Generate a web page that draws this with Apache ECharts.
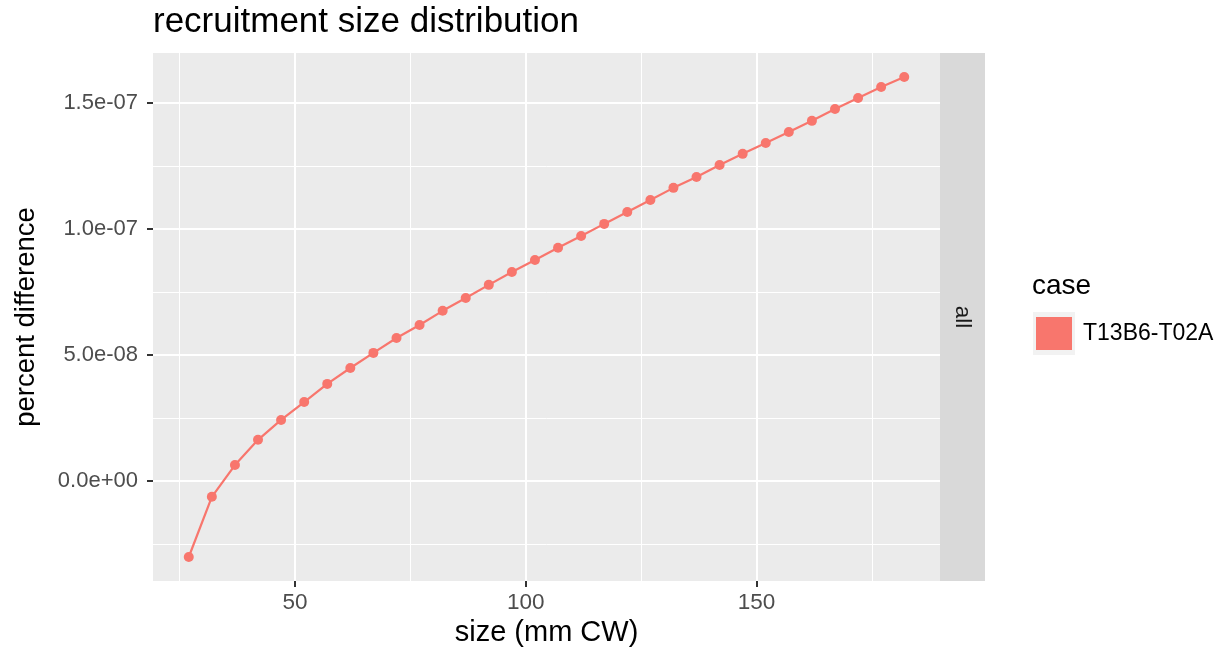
<!DOCTYPE html>
<html>
<head>
<meta charset="utf-8">
<script src="https://cdn.jsdelivr.net/npm/echarts@6/dist/echarts.min.js"></script>
<style>
html,body{margin:0;padding:0;background:#fff;}
#chart{width:1227px;height:658px;}
</style>
</head>
<body>
<div id="chart"></div>
<script>
// ---- data ----
const sizes = [27,32,37,42,47,52,57,62,67,72,77,82,87,92,97,102,107,112,117,122,127,132,137,142,147,152,157,162,167,172,177,182];
const pctDiff = [-3.02e-8,-6.3e-9,6.3e-9,1.63e-8,2.42e-8,3.13e-8,3.85e-8,4.48e-8,5.08e-8,5.67e-8,6.19e-8,6.75e-8,7.26e-8,7.78e-8,8.29e-8,8.77e-8,9.25e-8,9.72e-8,1.02e-7,1.067e-7,1.115e-7,1.163e-7,1.206e-7,1.254e-7,1.298e-7,1.341e-7,1.385e-7,1.429e-7,1.476e-7,1.52e-7,1.563e-7,1.603e-7];
const xMajorTicks = [50,100,150];
const xMinorTicks = [25,75,125,175];
const yMajorTicks = [0,5e-8,1e-7,1.5e-7];
const yMinorTicks = [-2.5e-8,2.5e-8,7.5e-8,1.25e-7];
const seriesName = 'T13B6-T02A';
const facetLabel = 'all';
const legendTitle = 'case';
const chartTitle = 'recruitment size distribution';
const xTitle = 'size (mm CW)';
const yTitle = 'percent difference';

// ---- layout ----
const G = {left:153, top:53, right:940, bottom:581};
const FONT = '"Liberation Sans", Arial, Helvetica, sans-serif';
const RED = '#F8766D';

function expand(arr){
  const mn = Math.min(...arr), mx = Math.max(...arr), d = (mx-mn)*0.05;
  return [mn-d, mx+d];
}
const [xmin,xmax] = expand(sizes);
const [ymin,ymax] = expand(pctDiff);

function sci(v){
  const s = Number(v).toExponential(1);
  let [m,e] = s.split('e');
  let sign = e[0], d = e.slice(1);
  if (d.length < 2) d = '0' + d;
  return m + 'e' + sign + d;
}

const chart = echarts.init(document.getElementById('chart'), null, {renderer:'canvas'});
const gridOpt = {left:G.left, top:G.top, width:G.right-G.left, height:G.bottom-G.top,
  show:true, backgroundColor:'#EBEBEB', borderWidth:0};

const option = {
  animation:false,
  backgroundColor:'#ffffff',
  title:[
    {text:chartTitle, left:G.left, top:5, padding:0,
     textStyle:{fontFamily:FONT, fontSize:35, fontWeight:'normal', color:'#000'}},
    {text:legendTitle, left:1032, top:272, padding:0,
     textStyle:{fontFamily:FONT, fontSize:28, fontWeight:'normal', color:'#000'}}
  ],
  grid:[gridOpt],
  legend:{
    left:1036, top:317, orient:'vertical', icon:'rect', itemWidth:36, itemHeight:33,
    padding:0, selectedMode:false,
    textStyle:{fontFamily:FONT, fontSize:23, color:'#000', padding:[0,0,0,6]},
    data:[{name:seriesName, itemStyle:{color:RED}}]
  },
  xAxis:[
    {type:'value', min:xmin, max:xmax, position:'bottom',
     name:xTitle, nameLocation:'middle', nameGap:37,
     nameTextStyle:{fontFamily:FONT, fontSize:29, color:'#000'},
     axisLine:{show:false, onZero:false},
     axisTick:{show:true, length:6, lineStyle:{color:'#333333', width:2}, customValues:xMajorTicks},
     axisLabel:{customValues:xMajorTicks, margin:10, fontFamily:FONT, fontSize:22.5, color:'#4D4D4D'},
     splitLine:{show:true, lineStyle:{color:'#ffffff', width:2}}},
    {type:'value', min:xmin, max:xmax, position:'bottom',
     axisLine:{show:false, onZero:false},
     axisTick:{show:false, customValues:xMinorTicks},
     axisLabel:{show:false, customValues:xMinorTicks},
     splitLine:{show:true, lineStyle:{color:'#ffffff', width:1}}}
  ],
  yAxis:[
    {type:'value', min:ymin, max:ymax, position:'left',
     name:yTitle, nameLocation:'middle', nameGap:113,
     nameTextStyle:{fontFamily:FONT, fontSize:27.5, color:'#000'},
     axisLine:{show:false, onZero:false},
     axisTick:{show:true, length:6, lineStyle:{color:'#333333', width:2}, customValues:yMajorTicks},
     axisLabel:{customValues:yMajorTicks, margin:15, fontFamily:FONT, fontSize:22, color:'#4D4D4D', formatter:sci},
     splitLine:{show:true, lineStyle:{color:'#ffffff', width:2}}},
    {type:'value', min:ymin, max:ymax, position:'left',
     axisLine:{show:false, onZero:false},
     axisTick:{show:false, customValues:yMinorTicks},
     axisLabel:{show:false, customValues:yMinorTicks},
     splitLine:{show:true, lineStyle:{color:'#ffffff', width:1}}}
  ],
  series:[
    {name:seriesName, type:'line', xAxisIndex:0, yAxisIndex:0,
     data:sizes.map((x,i)=>[x,pctDiff[i]]),
     symbol:'circle', symbolSize:10, showSymbol:true,
     lineStyle:{color:RED, width:2.2}, itemStyle:{color:RED}}
  ],
  graphic:[
    {type:'rect', shape:{x:G.right, y:G.top, width:45, height:G.bottom-G.top},
     style:{fill:'#D9D9D9'}, silent:true, z:-1},
    {type:'text', x:G.right+22.5, y:(G.top+G.bottom)/2, rotation:-Math.PI/2,
     style:{text:facetLabel, font:'22.5px '+FONT, fill:'#1A1A1A', align:'center', verticalAlign:'middle'}},
    {type:'rect', shape:{x:1033, y:312, width:42, height:43}, style:{fill:'#F2F2F2'}, z:-1, silent:true}
  ]
};
chart.setOption(option);
</script>
</body>
</html>
